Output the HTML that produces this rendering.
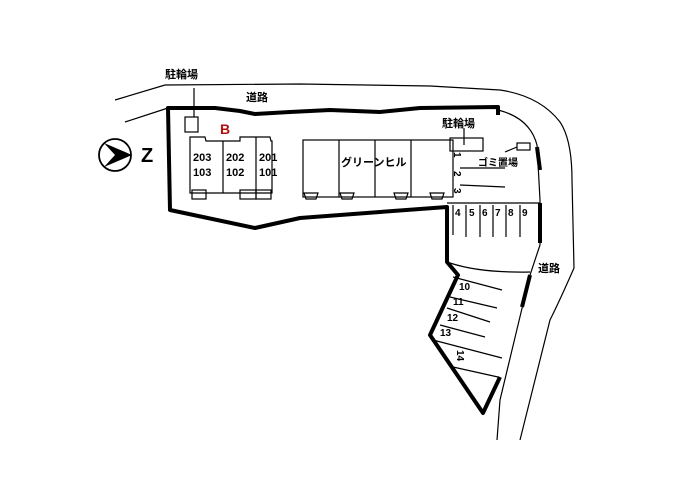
<!DOCTYPE html>
<html><head><meta charset="utf-8"><style>
html,body{margin:0;padding:0;background:#fff}
svg{display:block}
text{font-family:"Liberation Sans","Noto Sans CJK JP",sans-serif;font-weight:bold;fill:#000}
</style></head><body>
<svg width="700" height="494" viewBox="0 0 700 494" xmlns="http://www.w3.org/2000/svg">
<rect width="700" height="494" fill="#fff"/>
<g fill="none" stroke="#000" stroke-width="1.2">
<path d="M115,100 L165,85 L300,84 L430,86 L500,90 Q540,96 560,122 Q572,140 572,180 L574,268 Q560,300 550,320 L520,440"/>
<path d="M125,122 L168,108"/>
<path d="M498,110 Q530,118 537,145 L540,200 L540,245 L530,275 L500,400 L497,440"/>
</g>
<path d="M498,115 L498,107 L420,108 L380,112 L330,110 L290,112 L255,114 L240,111 L215,108 L168,108 L170,210 L255,228 L300,218 L380,212 L447,207 L447,262 L458,275 L430,335 L483,413 L500,377" fill="none" stroke="#000" stroke-width="4" stroke-linejoin="round"/>
<g stroke="#000" stroke-width="4">
<line x1="537" y1="147" x2="540" y2="170"/>
<line x1="540" y1="203" x2="540" y2="243"/>
<line x1="530" y1="275" x2="522" y2="307"/>
</g>
<g fill="none" stroke="#000" stroke-width="1.2">
<line x1="447" y1="203" x2="540" y2="203"/>
<line x1="453" y1="205" x2="453" y2="235"/><line x1="466" y1="205" x2="466" y2="237"/>
<line x1="480" y1="205" x2="480" y2="237"/><line x1="493" y1="205" x2="493" y2="237"/>
<line x1="506" y1="205" x2="506" y2="237"/><line x1="520" y1="205" x2="520" y2="237"/>
<path d="M450,263 Q480,273 530,272"/>
<line x1="453" y1="277" x2="502" y2="290"/><line x1="450" y1="297" x2="497" y2="308"/>
<line x1="447" y1="308" x2="490" y2="322"/><line x1="440" y1="325" x2="485" y2="337"/>
<line x1="433" y1="340" x2="502" y2="358"/><line x1="453" y1="367" x2="498" y2="377"/>
<line x1="460" y1="168" x2="505" y2="168"/><line x1="460" y1="185" x2="505" y2="187"/>
<rect x="185" y="117" width="13" height="15"/><line x1="194" y1="88" x2="194" y2="117"/>
<rect x="450" y="138" width="33" height="13"/><line x1="464" y1="128" x2="464" y2="145"/>
<rect x="517" y="143" width="13" height="7"/><line x1="505" y1="152" x2="517" y2="147"/>
<!-- building B -->
<path d="M190,137 L205,137 L206,141 L240,141 L240,137 L270,137 L271,141 L272,141 L272,193 L190,193 Z"/>
<line x1="223" y1="141" x2="223" y2="193"/><line x1="256" y1="137" x2="256" y2="193"/>
<rect x="192" y="190" width="14" height="9"/><rect x="240" y="190" width="16" height="9"/><rect x="256" y="190" width="15" height="9"/>
<rect x="303" y="140" width="150" height="57"/>
<line x1="339" y1="140" x2="339" y2="197"/><line x1="375" y1="140" x2="375" y2="197"/><line x1="411" y1="140" x2="411" y2="197"/>
<path d="M304,193 L318,193 L316,199 L306,199 Z"/><path d="M340,193 L354,193 L352,199 L342,199 Z"/>
<path d="M394,193 L408,193 L406,199 L396,199 Z"/><path d="M430,193 L444,193 L442,199 L432,199 Z"/>
<circle cx="115" cy="155" r="16" stroke-width="1.8"/>
</g>
<path d="M104,143 L132,155 L104,167 L115,155 Z" fill="#000"/>
<text x="141" y="162" font-size="20" font-weight="normal">Z</text>
<text x="165" y="78" font-size="11">駐輪場</text>
<text x="246" y="101" font-size="11">道路</text>
<text x="220" y="134" font-size="14" font-weight="normal" style="fill:#b01010">B</text>
<text x="193" y="161" font-size="11">203</text><text x="193" y="176" font-size="11">103</text>
<text x="226" y="161" font-size="11">202</text><text x="226" y="176" font-size="11">102</text>
<text x="259" y="161" font-size="11">201</text><text x="259" y="176" font-size="11">101</text>
<text x="341" y="166" font-size="11" font-weight="normal">グリーンヒル</text>
<text x="442" y="127" font-size="11">駐輪場</text>
<text x="478" y="166" font-size="10">ゴミ置場</text>
<text x="538" y="272" font-size="11">道路</text>
<g font-size="10">
<text x="454" y="158" transform="rotate(90 457 155)">1</text>
<text x="454" y="177" transform="rotate(90 457 174)">2</text>
<text x="454" y="194" transform="rotate(90 457 191)">3</text>
<text x="455" y="216">4</text><text x="469" y="216">5</text><text x="482" y="216">6</text>
<text x="495" y="216">7</text><text x="508" y="216">8</text><text x="522" y="216">9</text>
<text x="459" y="290">10</text><text x="453" y="305">11</text><text x="447" y="321">12</text>
<text x="440" y="336">13</text>
<text x="455" y="358" transform="rotate(90 460 355)">14</text>
</g>
</svg>
</body></html>
